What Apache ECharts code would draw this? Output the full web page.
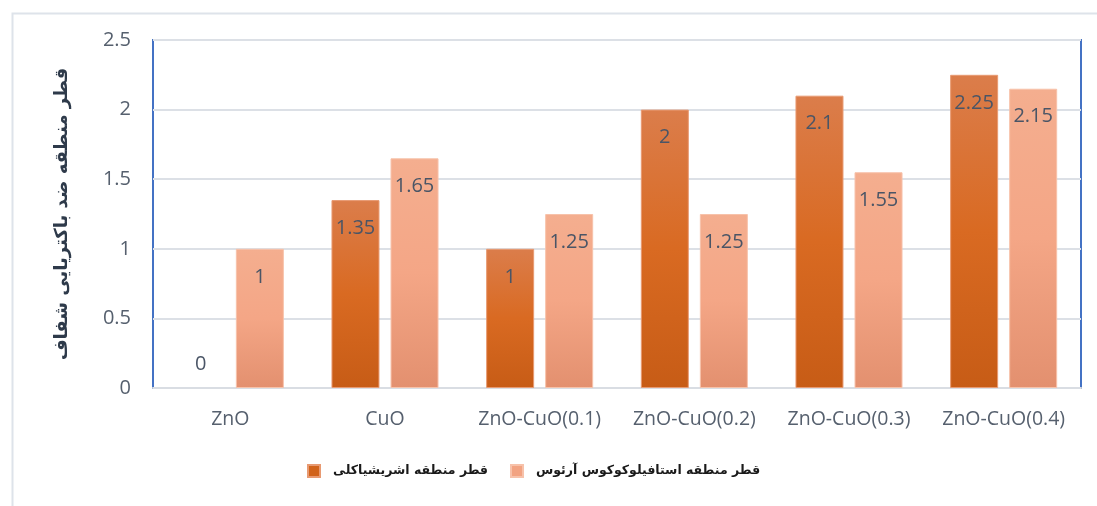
<!DOCTYPE html>
<html>
<head>
<meta charset="utf-8">
<script src="https://cdn.jsdelivr.net/npm/echarts@6/dist/echarts.min.js"></script>
<style>
html, body { margin: 0; padding: 0; background: #fff; }
#chart { width: 1097px; height: 506px; }
</style>
</head>
<body>
<div id="chart"></div>
<script>
var categories = ['ZnO', 'CuO', 'ZnO-CuO(0.1)', 'ZnO-CuO(0.2)', 'ZnO-CuO(0.3)', 'ZnO-CuO(0.4)'];
var ecoliName = 'قطر منطقه اشریشیاکلی';
var staphName = 'قطر منطقه استافیلوکوکوس آرئوس';
var ecoliValues = [0, 1.35, 1, 2, 2.1, 2.25];
var staphValues = [1, 1.65, 1.25, 1.25, 1.55, 2.15];
var yName = 'قطر منطقه ضد باکتریایی شفاف';

var dom = document.getElementById('chart');
var myChart = echarts.init(dom);

function grad(top, mid, bottom) {
    return new echarts.graphic.LinearGradient(0, 0, 0, 1, [
        {offset: 0, color: top},
        {offset: 0.5, color: mid},
        {offset: 1, color: bottom}
    ]);
}

var valueLabel = {
    show: true,
    position: 'insideTop',
    distance: 18,
    color: '#4A5566',
    fontSize: 20,
    fontFamily: 'Open Sans'
};

// a zero bar: no outline, and the label sits above the axis like the original
function withZeroLabel(values) {
    return values.map(function (v) {
        if (v === 0) {
            return {
                value: v,
                itemStyle: {borderWidth: 0},
                label: {position: 'top', distance: 14}
            };
        }
        return v;
    });
}

var option = {
    backgroundColor: '#fff',
    animation: false,
    graphic: [{
        type: 'rect',
        left: 10,
        top: 11,
        shape: {width: 1200, height: 600},
        style: {fill: 'none', stroke: '#DEE3EA', lineWidth: 2},
        silent: true
    }],
    grid: {
        left: 153,
        right: 16,
        top: 40,
        bottom: 118,
        show: true,
        borderColor: '#4472C4',
        borderWidth: 2
    },
    legend: {
        bottom: 23,
        left: 302,
        itemWidth: 12,
        itemHeight: 12,
        itemGap: 22,
        icon: 'rect',
        textStyle: {
            color: '#1a1a1a',
            fontSize: 12.5,
            fontWeight: 'bold',
            fontFamily: 'DejaVu Sans',
            padding: [0, 0, 0, 8]
        },
        data: [
            {name: ecoliName, itemStyle: {color: '#D1631B'}},
            {name: staphName, itemStyle: {color: '#F2A382'}}
        ]
    },
    xAxis: {
        type: 'category',
        data: categories,
        axisLine: {lineStyle: {color: '#D9DDE3', width: 2}},
        axisTick: {show: false},
        axisLabel: {
            interval: 0,
            color: '#56606E',
            fontSize: 19.5,
            fontFamily: 'Open Sans',
            margin: 21
        }
    },
    yAxis: {
        type: 'value',
        min: 0,
        max: 2.5,
        interval: 0.5,
        name: yName,
        nameLocation: 'middle',
        nameRotate: 90,
        nameGap: 82,
        nameTextStyle: {
            color: '#2E3A4A',
            fontSize: 18,
            fontWeight: 'bold',
            fontFamily: 'DejaVu Sans'
        },
        axisLine: {show: false},
        axisTick: {show: false},
        splitLine: {lineStyle: {color: '#DCE0E6', width: 2}},
        axisLabel: {
            color: '#56606E',
            fontSize: 20,
            fontFamily: 'Open Sans',
            margin: 22
        }
    },
    series: [
        {
            name: ecoliName,
            type: 'bar',
            barWidth: 48,
            barGap: '23%',
            data: withZeroLabel(ecoliValues),
            itemStyle: {
                color: grad('#DB7D4B', '#D96A22', '#C75C16'),
                borderColor: '#E89A72',
                borderWidth: 1
            },
            label: valueLabel
        },
        {
            name: staphName,
            type: 'bar',
            barWidth: 48,
            barGap: '23%',
            data: withZeroLabel(staphValues),
            itemStyle: {
                color: grad('#F4AE8F', '#F4A686', '#E3906F'),
                borderColor: '#F7C2AA',
                borderWidth: 1
            },
            label: valueLabel
        }
    ]
};

myChart.setOption(option);
</script>
</body>
</html>
